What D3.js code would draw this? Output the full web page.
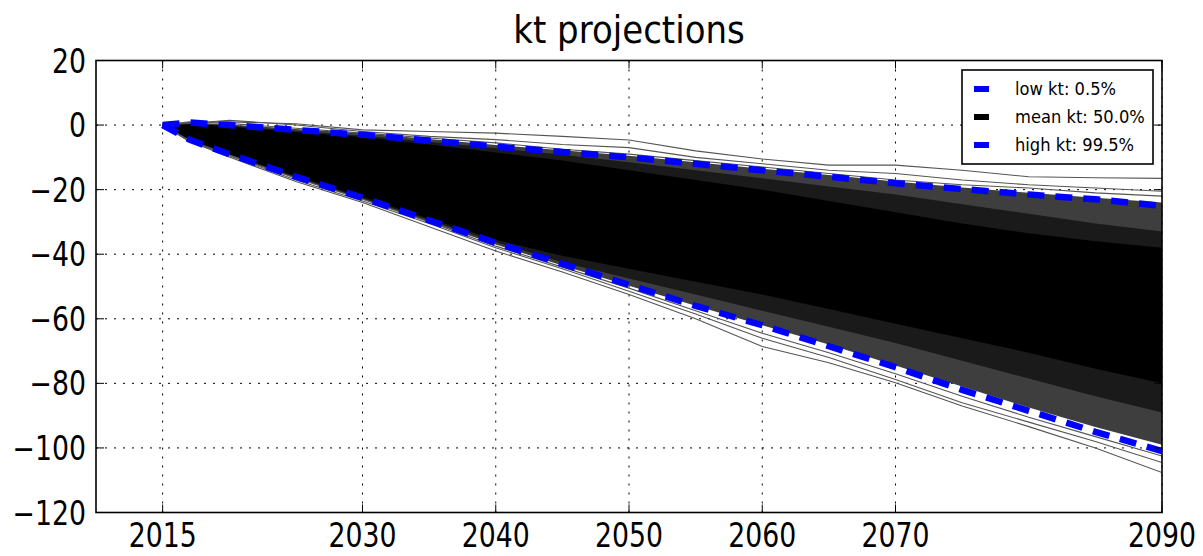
<!DOCTYPE html>
<html><head><meta charset="utf-8">
<script src="https://cdn.jsdelivr.net/npm/d3@7"></script>
<style>body{margin:0;background:#fff}svg{display:block}</style>
</head><body>
<svg id="c" width="1203" height="556"></svg>
<script>
// ---- data ----
const years = [2015,2017,2020,2025,2030,2035,2040,2045,2050,2055,2060,2065,2070,2075,2080,2085,2090];
const highKt = [0,0.8,0,-1.5,-3,-4.8,-6.7,-8.3,-10,-12,-14,-16,-18,-19.8,-21.5,-23,-25];
const lowKt  = [0,-4.5,-9,-16,-22.5,-29.5,-36.5,-43,-49.5,-56,-62,-68.5,-75,-82,-88.5,-95,-101];
const meanKt = [0,-1.5,-4,-8.5,-12.5,-16.5,-20.5,-24.5,-28.5,-32.5,-36.5,-40.5,-44.5,-48.5,-52.5,-56.5,-60.5];
// envelope of the simulated paths (outer fringe, dense fringe, solid core)
const fringeTop = [0,0.8,0.2,-1.2,-2.5,-4.3,-6.2,-7.8,-9.5,-11.5,-13.5,-15.5,-17.5,-19.3,-21,-22.5,-24];
const fringeBot = [0,-4.8,-9.4,-16.5,-23,-30,-37,-43.5,-49.8,-56,-62,-68,-74.5,-81,-87.5,-93.5,-99];
const denseTop  = [0,0.6,-0.2,-1.8,-3.3,-5.2,-7.2,-9.2,-11.5,-14,-16.5,-19,-21.5,-24.5,-27.5,-30.5,-33];
const denseBot  = [0,-4.6,-9.2,-16.2,-22.7,-29.5,-36.3,-42.5,-47.5,-52.5,-57.5,-62.5,-67.5,-73,-78.5,-84,-89];
const coreTop   = [0,0.4,-0.5,-2.2,-3.8,-6,-8.5,-11,-14,-17,-20,-23.5,-27,-30.5,-33.5,-36,-38];
const coreBot   = [0,-4.4,-9,-15.8,-22.2,-29,-35.5,-40.5,-44.5,-48.5,-52.5,-57,-61.5,-66,-70.5,-75.5,-80];
// individual outlying paths
const pathT1 = [0,0.8,1,0.4,-1.5,-2,-2.5,-3.5,-4.6,-8,-10.5,-12.4,-12.4,-14,-16,-16.3,-16.5];
const pathT2 = [0,0.5,1.5,0,-2,-3.5,-4.5,-6,-7,-10,-12,-14,-15,-17,-18.5,-19.5,-20.5];
const pathT3 = [0,1,0.5,-1,-2.5,-4,-5.5,-7.5,-9,-11,-13,-15,-17,-18.5,-19.5,-21,-22];
const pathB1 = [0,-5,-9.9,-17.5,-24,-31.5,-39,-45.5,-52.5,-60,-68.6,-73.6,-79.8,-87,-93.4,-100,-107.6];
const pathB2 = [0,-5,-9.5,-17,-23.5,-30.5,-38,-44.5,-51.5,-58.5,-66,-72,-78.8,-86,-92,-98,-104.5];
const pathB3 = [0,-4.8,-9.3,-16.5,-23,-30,-37.5,-44,-50.5,-57.5,-64.5,-70.5,-77,-84,-90.5,-96.5,-102.5];
const xTicks = [2015,2030,2040,2050,2060,2070,2090];
const yTicks = [20,0,-20,-40,-60,-80,-100,-120];
const legendLabels = ["low kt: 0.5%","mean kt: 50.0%","high kt: 99.5%"];
const legendColors = ["#0000ff","#000000","#0000ff"];
const title = "kt projections";

// ---- layout ----
const L = 96, R = 1162, T = 60.5, B = 512.5;
const svg = d3.select("#c");
const x = d3.scaleLinear().domain([2010,2090]).range([L,R]);
const y = d3.scaleLinear().domain([-120,20]).range([B,T]);
const font = "DejaVu Sans, sans-serif";

svg.append("defs").append("clipPath").attr("id","clip")
  .append("rect").attr("x",L).attr("y",T).attr("width",R-L).attr("height",B-T);

// grid
const grid = svg.append("g");
grid.selectAll("line.v").data(xTicks).enter().append("line")
  .attr("x1",d=>x(d)).attr("x2",d=>x(d)).attr("y1",T).attr("y2",B)
  .attr("stroke","#000").attr("stroke-width",1).attr("stroke-dasharray","2,7");
grid.selectAll("line.h").data(yTicks).enter().append("line")
  .attr("y1",d=>y(d)).attr("y2",d=>y(d)).attr("x1",L).attr("x2",R)
  .attr("stroke","#000").attr("stroke-width",1).attr("stroke-dasharray","2,7");

const plot = svg.append("g").attr("clip-path","url(#clip)");
const band = (top,bot)=> d3.area().x((d,i)=>x(years[i])).y0((d,i)=>y(bot[i])).y1((d,i)=>y(top[i]))(years);
const line = arr => d3.line().x((d,i)=>x(years[i])).y(d=>y(d))(arr);

plot.append("path").attr("d",band(fringeTop,fringeBot)).attr("fill","#3e3e3e");
plot.append("path").attr("d",band(denseTop,denseBot)).attr("fill","#1a1a1a");
plot.append("path").attr("d",band(coreTop,coreBot)).attr("fill","#000");

[pathT1,pathT2,pathT3,pathB1,pathB2,pathB3].forEach(p=>{
  plot.append("path").attr("d",line(p)).attr("fill","none")
    .attr("stroke","#555").attr("stroke-width",1.1);
});
plot.append("path").attr("d",line(meanKt)).attr("fill","none").attr("stroke","#000").attr("stroke-width",2);
[lowKt,highKt].forEach(p=>{
  plot.append("path").attr("d",line(p)).attr("fill","none")
    .attr("stroke","#0000ff").attr("stroke-width",6.5).attr("stroke-dasharray","17,11");
});

// frame
svg.append("rect").attr("x",L).attr("y",T).attr("width",R-L).attr("height",B-T)
  .attr("fill","none").attr("stroke","#000").attr("stroke-width",1.6);

// ticks (inside, all sides)
const tk = svg.append("g").attr("stroke","#000").attr("stroke-width",1);
xTicks.forEach(d=>{
  tk.append("line").attr("x1",x(d)).attr("x2",x(d)).attr("y1",B).attr("y2",B-8);
  tk.append("line").attr("x1",x(d)).attr("x2",x(d)).attr("y1",T).attr("y2",T+8);
});
yTicks.forEach(d=>{
  tk.append("line").attr("y1",y(d)).attr("y2",y(d)).attr("x1",L).attr("x2",L+8);
  tk.append("line").attr("y1",y(d)).attr("y2",y(d)).attr("x1",R).attr("x2",R-8);
});

// tick labels
const fmt = d => (d<0 ? "\u2212"+Math.abs(d) : String(d));
xTicks.forEach(d=>{
  svg.append("text").attr("transform",`translate(${x(d)},547) scale(0.81,1)`)
    .attr("text-anchor","middle").attr("font-family",font).attr("font-size",33)
    .attr("fill","#000").text(d);
});
yTicks.forEach(d=>{
  svg.append("text").attr("transform",`translate(86,${y(d)+12}) scale(0.81,1)`)
    .attr("text-anchor","end").attr("font-family",font).attr("font-size",33)
    .attr("fill","#000").text(fmt(d));
});

// title
svg.append("text").attr("transform","translate(629,43) scale(0.92,1)")
  .attr("text-anchor","middle").attr("font-family",font).attr("font-size",37)
  .attr("fill","#000").text(title);

// legend
const lg = svg.append("g");
lg.append("rect").attr("x",962).attr("y",70).attr("width",191).attr("height",94)
  .attr("fill","#fff").attr("stroke","#000").attr("stroke-width",1.6);
legendLabels.forEach((t,i)=>{
  const cy = 89 + i*28;
  lg.append("rect").attr("x",974).attr("y",cy-3).attr("width",15).attr("height",6).attr("fill",legendColors[i]);
  lg.append("text").attr("transform",`translate(1015,${cy+6}) scale(0.96,1)`)
    .attr("font-family",font).attr("font-size",17).attr("fill","#000").text(t);
});
</script>
</body></html>
